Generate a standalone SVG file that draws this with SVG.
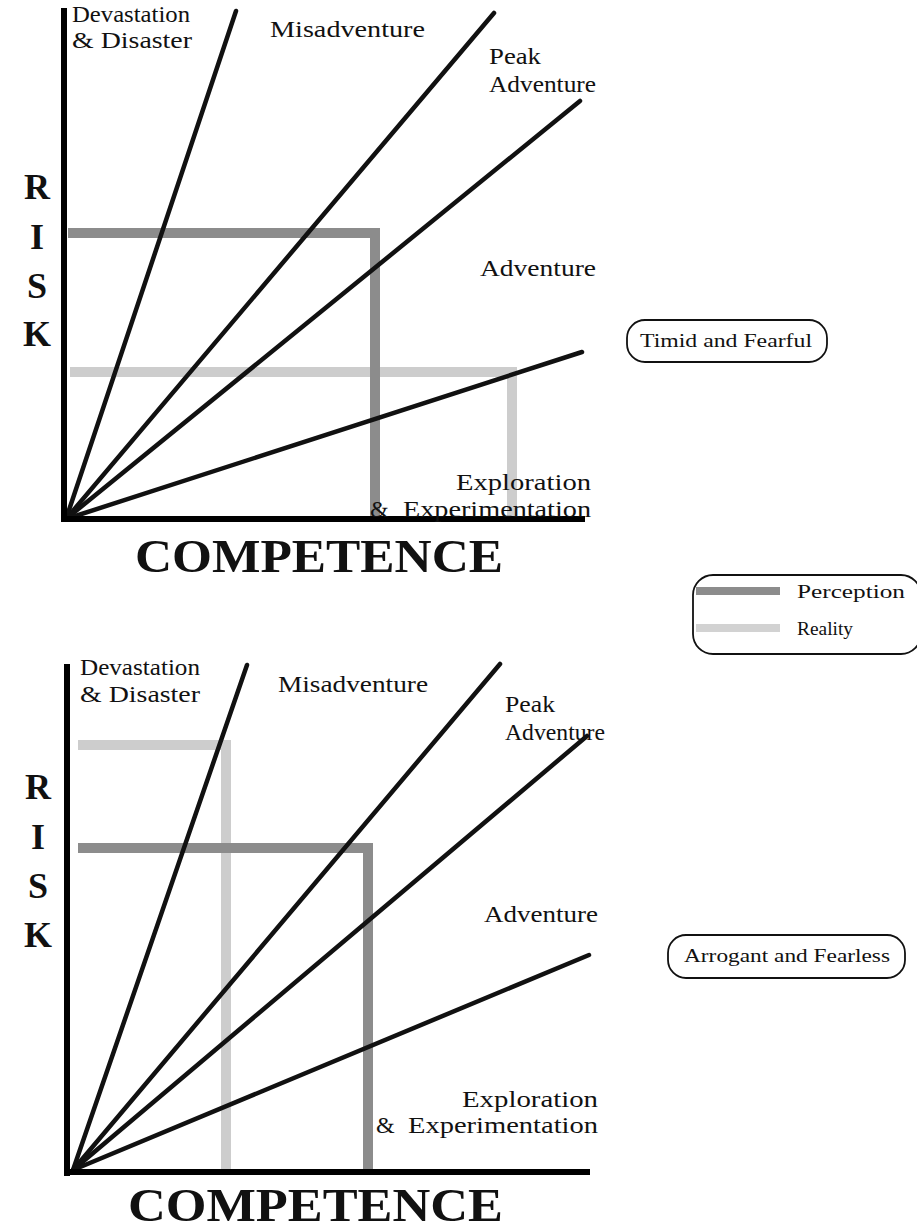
<svg xmlns="http://www.w3.org/2000/svg" width="917" height="1232" viewBox="0 0 917 1232">
<style>
.lbl{font-family:"Liberation Serif",serif;font-size:24px;fill:#111}
.axis{stroke:#000;stroke-width:6;fill:none}
.ray{stroke:#111;stroke-width:4.5;fill:none;stroke-linecap:round}
.perc{stroke:#8c8c8c;stroke-width:10;fill:none}
.real{stroke:#cdcdcd;stroke-width:10;fill:none}
.lperc{stroke:#8c8c8c;stroke-width:8;fill:none}
.lreal{stroke:#d2d2d2;stroke-width:8;fill:none}
.risk{font-family:"Liberation Serif",serif;font-weight:bold;font-size:36px;fill:#111;text-anchor:middle}
.comp{font-family:"Liberation Serif",serif;font-weight:bold;font-size:47px;fill:#111}
.tag{font-family:"Liberation Serif",serif;font-size:19px;fill:#111}
.box{fill:#fff;stroke:#111;stroke-width:1.8}
</style>
<rect width="917" height="1232" fill="#fff"/>

<g id="chart-top">
  <g id="top-bars">
    <polyline class="real" points="70,372 512,372 512,519"/>
    <polyline class="perc" points="68,233 375,233 375,519"/>
  </g>
  <g id="top-connectors">
    <line class="ray" x1="66" y1="519" x2="236" y2="11"/>
    <line class="ray" x1="66" y1="519" x2="494" y2="13"/>
    <line class="ray" x1="66" y1="519" x2="580" y2="101"/>
    <line class="ray" x1="66" y1="519" x2="582" y2="352"/>
  </g>
  <line class="axis" x1="64" y1="8" x2="64" y2="522"/>
  <line class="axis" x1="62" y1="519" x2="585" y2="519"/>
  <text class="lbl" x="72" y="22" textLength="118" lengthAdjust="spacingAndGlyphs">Devastation</text>
  <text class="lbl" x="72" y="48" textLength="120" lengthAdjust="spacingAndGlyphs">&amp; Disaster</text>
  <text class="lbl" x="270" y="37" textLength="155" lengthAdjust="spacingAndGlyphs">Misadventure</text>
  <text class="lbl" x="489" y="64" textLength="52" lengthAdjust="spacingAndGlyphs">Peak</text>
  <text class="lbl" x="489" y="92" textLength="107" lengthAdjust="spacingAndGlyphs">Adventure</text>
  <text class="lbl" x="480" y="276" textLength="116" lengthAdjust="spacingAndGlyphs">Adventure</text>
  <text class="lbl" x="456" y="490" textLength="135" lengthAdjust="spacingAndGlyphs">Exploration</text>
  <text class="lbl" x="370" y="517">&amp;</text>
  <text class="lbl" x="403" y="517" textLength="188" lengthAdjust="spacingAndGlyphs">Experimentation</text>
  <text class="risk" x="37" y="199">R</text>
  <text class="risk" x="37" y="249">I</text>
  <text class="risk" x="37" y="298">S</text>
  <text class="risk" x="37" y="346">K</text>
  <text class="comp" x="135" y="572" textLength="368" lengthAdjust="spacingAndGlyphs">COMPETENCE</text>
</g>

<g id="node-timid">
  <rect class="box" x="627" y="320" width="200" height="42" rx="18"/>
  <text class="tag" x="640" y="347" textLength="172" lengthAdjust="spacingAndGlyphs">Timid and Fearful</text>
</g>

<g id="legend">
  <rect class="box" x="693" y="575" width="228" height="79" rx="20"/>
  <line class="lperc" x1="696" y1="591" x2="780" y2="591"/>
  <text class="tag" x="797" y="598" textLength="108" lengthAdjust="spacingAndGlyphs">Perception</text>
  <line class="lreal" x1="696" y1="628" x2="780" y2="628"/>
  <text class="tag" x="797" y="635" textLength="56" lengthAdjust="spacingAndGlyphs">Reality</text>
</g>

<g id="chart-bottom">
  <g id="bottom-bars">
    <polyline class="real" points="78,745 226,745 226,1170"/>
    <polyline class="perc" points="78,848 368,848 368,1170"/>
  </g>
  <g id="bottom-connectors">
    <line class="ray" x1="73" y1="1170" x2="247" y2="665"/>
    <line class="ray" x1="73" y1="1170" x2="500" y2="664"/>
    <line class="ray" x1="73" y1="1170" x2="587" y2="736"/>
    <line class="ray" x1="73" y1="1170" x2="589" y2="955"/>
  </g>
  <line class="axis" x1="67" y1="664" x2="67" y2="1176"/>
  <line class="axis" x1="65" y1="1172" x2="590" y2="1172"/>
  <text class="lbl" x="80" y="675" textLength="120" lengthAdjust="spacingAndGlyphs">Devastation</text>
  <text class="lbl" x="80" y="702" textLength="120" lengthAdjust="spacingAndGlyphs">&amp; Disaster</text>
  <text class="lbl" x="278" y="692" textLength="150" lengthAdjust="spacingAndGlyphs">Misadventure</text>
  <text class="lbl" x="505" y="712" textLength="50" lengthAdjust="spacingAndGlyphs">Peak</text>
  <text class="lbl" x="505" y="740" textLength="100" lengthAdjust="spacingAndGlyphs">Adventure</text>
  <text class="lbl" x="484" y="922" textLength="114" lengthAdjust="spacingAndGlyphs">Adventure</text>
  <text class="lbl" x="462" y="1107" textLength="136" lengthAdjust="spacingAndGlyphs">Exploration</text>
  <text class="lbl" x="376" y="1133">&amp;</text>
  <text class="lbl" x="408" y="1133" textLength="190" lengthAdjust="spacingAndGlyphs">Experimentation</text>
  <text class="risk" x="38" y="799">R</text>
  <text class="risk" x="38" y="849">I</text>
  <text class="risk" x="38" y="898">S</text>
  <text class="risk" x="38" y="947">K</text>
  <text class="comp" x="128" y="1221" textLength="375" lengthAdjust="spacingAndGlyphs">COMPETENCE</text>
</g>

<g id="node-arrogant">
  <rect class="box" x="668" y="935" width="237" height="43" rx="18"/>
  <text class="tag" x="684" y="962" textLength="206" lengthAdjust="spacingAndGlyphs">Arrogant and Fearless</text>
</g>
</svg>
